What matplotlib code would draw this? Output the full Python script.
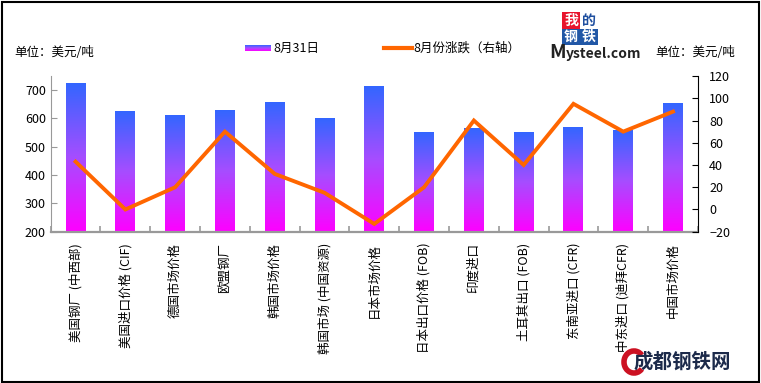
import numpy as np
import matplotlib
matplotlib.use("Agg")
import matplotlib.pyplot as plt
from matplotlib.colors import LinearSegmentedColormap
from matplotlib.patches import Rectangle, Arc

plt.rcParams['font.family'] = ['Noto Sans CJK SC', 'DejaVu Sans']

# data
categories = ["美国钢厂 (中西部)", "美国进口价格 (CIF)", "德国市场价格", "欧盟钢厂",
              "韩国市场价格", "韩国市场 (中国资源)", "日本市场价格", "日本出口价格 (FOB)",
              "印度进口", "土耳其出口 (FOB)", "东南亚进口 (CFR)", "中东进口 (迪拜CFR)",
              "中国市场价格"]
price_aug31 = [725, 625, 610, 630, 657, 600, 715, 550, 565, 550, 570, 560, 655]
change_aug = [43, 0, 20, 70, 32, 15, -13, 20, 80, 40, 95, 70, 88]

bar_name = "8月31日"
line_name = "8月份涨跌（右轴）"
unit = "单位：美元/吨"

grad = LinearSegmentedColormap.from_list("g", ["#ff00ff", "#a64dff", "#3366ff"])

fig = plt.figure(figsize=(7.61, 3.83), dpi=100)
ax = fig.add_axes([0.0666, 0.395, 0.8505, 0.4065])
ax2 = ax.twinx()

x = np.arange(len(categories))
w = 0.4
g = np.linspace(0, 1, 256).reshape(-1, 1)
for xi, v in zip(x, price_aug31):
    ax.imshow(g, extent=[xi - w / 2, xi + w / 2, 200, v], origin='lower',
              aspect='auto', cmap=grad, zorder=2)

ax.set_xlim(-0.5, len(categories) - 0.5)
ax.set_ylim(200, 750)
ax.set_yticks(range(200, 701, 100))
ax.set_xticks(x)
ax.set_xticklabels(categories, rotation=90, va='top', ha='center', fontsize=9)
ax.set_xticks(np.arange(-0.5, len(categories)), minor=True)
ax.tick_params(axis='x', which='major', length=0, pad=8)
ax.tick_params(axis='x', which='minor', direction='in', length=4, color='#999999', width=1.2)
ax.tick_params(axis='y', direction='in', length=4, color='#999999', labelsize=9)

ax2.plot(x, change_aug, color='#ff6600', lw=2.8, solid_joinstyle='miter', zorder=3)
ax2.set_ylim(-20, 120)
ax2.set_yticks(range(-20, 121, 20))
ax2.tick_params(axis='y', direction='in', length=4, color='black', labelsize=9, pad=8)

for a in (ax, ax2):
    a.spines['top'].set_visible(False)
ax.spines['right'].set_visible(False)
ax.spines['left'].set_color('#999999')
ax.spines['bottom'].set_color('#999999')
ax.spines['bottom'].set_linewidth(1.6)
ax2.spines['left'].set_visible(False)
ax2.spines['bottom'].set_visible(False)
ax2.spines['right'].set_color('black')

# unit labels
fig.text(14 / 761, 1 - 52 / 383, unit, fontsize=9, va='center', ha='left')
fig.text(655 / 761, 1 - 52 / 383, unit, fontsize=9, va='center', ha='left')

# legend drawn by hand
lx0, ly = 245 / 761, 1 - 48 / 383
leg_ax = fig.add_axes([lx0, ly - 3 / 383, 26 / 761, 6 / 383])
leg_ax.imshow(g, origin='lower', aspect='auto', cmap=grad)
leg_ax.axis('off')
fig.text(273 / 761, ly, bar_name, fontsize=9, va='center', ha='left')
fig.add_artist(plt.Line2D([384 / 761, 412 / 761], [ly, ly], color='#ff6600', lw=3,
                          transform=fig.transFigure))
fig.text(413 / 761, ly, line_name, fontsize=9, va='center', ha='left')

# Mysteel logo
def box(x0, y0, bw, bh, fc, ch, tc):
    fig.add_artist(Rectangle((x0 / 761, 1 - (y0 + bh) / 383), bw / 761, bh / 383,
                             facecolor=fc, edgecolor='none', transform=fig.transFigure))
    fig.text((x0 + bw / 2) / 761, 1 - (y0 + bh / 2) / 383, ch, color=tc, fontsize=10,
             fontweight='bold', ha='center', va='center')

box(562, 12, 18, 17, '#e8142c', "我", 'white')
box(580, 12, 18, 17, 'white', "的", '#1f4f9f')
box(562, 29, 18, 16, '#2157a6', "钢", 'white')
box(580, 29, 18, 16, '#2157a6', "铁", 'white')
fig.text(549 / 761, 1 - 52 / 383, "M", fontsize=14, fontweight='bold', ha='left',
         va='center', color='#222222')
fig.text(566 / 761, 1 - 54 / 383, "ysteel.com", fontsize=10, fontweight='bold',
         ha='left', va='center', color='#222222')

# watermark
fig.add_artist(Arc((634 / 761, 1 - 362 / 383), 20 / 761, 22 / 383, theta1=60, theta2=300,
                   color='#cc1122', lw=4, transform=fig.transFigure))
fig.text(634 / 761, 1 - 362 / 383, "成都钢铁网", fontsize=14, fontweight='bold',
         color='#1c2a4a', ha='left', va='center')

# outer border
fig.add_artist(Rectangle((0.002, 0.003), 0.995, 0.993, fill=False, edgecolor='black',
                         lw=1.5, transform=fig.transFigure))

fig.savefig("out.png", dpi=100)
